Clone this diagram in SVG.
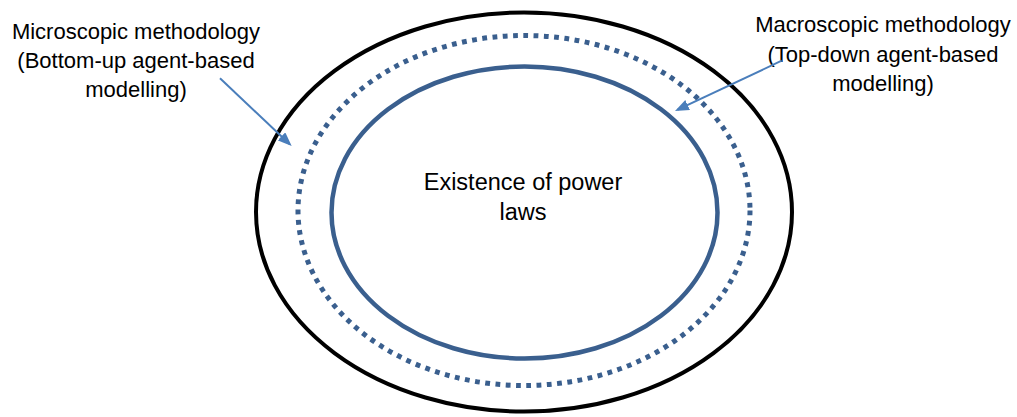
<svg xmlns="http://www.w3.org/2000/svg" width="1017" height="417" viewBox="0 0 1017 417">
  <defs>
    <style>
      .lbl { font-family: "Liberation Sans", Arial, sans-serif; font-size: 22px; fill: #000; text-anchor: middle; }
      .ctr { font-family: "Liberation Sans", Arial, sans-serif; font-size: 23.5px; fill: #000; text-anchor: middle; }
      .arrow { stroke: #4A7EBB; stroke-width: 2; fill: none; marker-end: url(#head); }
    </style>
    <marker id="head" markerUnits="userSpaceOnUse" markerWidth="14" markerHeight="11" refX="11" refY="5.5" orient="auto">
      <path d="M0,0 L14,5.5 L0,11 z" fill="#4A7EBB"/>
    </marker>
  </defs>
  <rect width="1017" height="417" fill="#fff"/>
  <g id="outer">
    <ellipse cx="524" cy="212" rx="268" ry="199.5" fill="none" stroke="#000" stroke-width="4"/>
  </g>
  <g id="macro-ring">
    <ellipse cx="524" cy="210.5" rx="226" ry="175" fill="none" stroke="#3A5F8E" stroke-width="5" stroke-dasharray="4.8 5.5"/>
  </g>
  <g id="core">
    <ellipse cx="524.5" cy="212.5" rx="193" ry="146" fill="none" stroke="#3A5F8E" stroke-width="4.5"/>
    <text class="ctr" x="523" y="190">Existence of power</text>
    <text class="ctr" x="523" y="220">laws</text>
  </g>
  <g id="micro-label">
    <text class="lbl" x="136" y="39">Microscopic methodology</text>
    <text class="lbl" x="136" y="68">(Bottom-up agent-based</text>
    <text class="lbl" x="136" y="97">modelling)</text>
  </g>
  <g id="macro-label">
    <text class="lbl" x="883" y="32">Macroscopic methodology</text>
    <text class="lbl" x="883" y="61.5">(Top-down agent-based</text>
    <text class="lbl" x="883" y="90.5">modelling)</text>
  </g>
  <g id="connectors">
    <line class="arrow" x1="220" y1="78.3" x2="289.5" y2="143.9"/>
    <line class="arrow" x1="781.7" y1="60.7" x2="677.7" y2="109.7"/>
  </g>
</svg>
